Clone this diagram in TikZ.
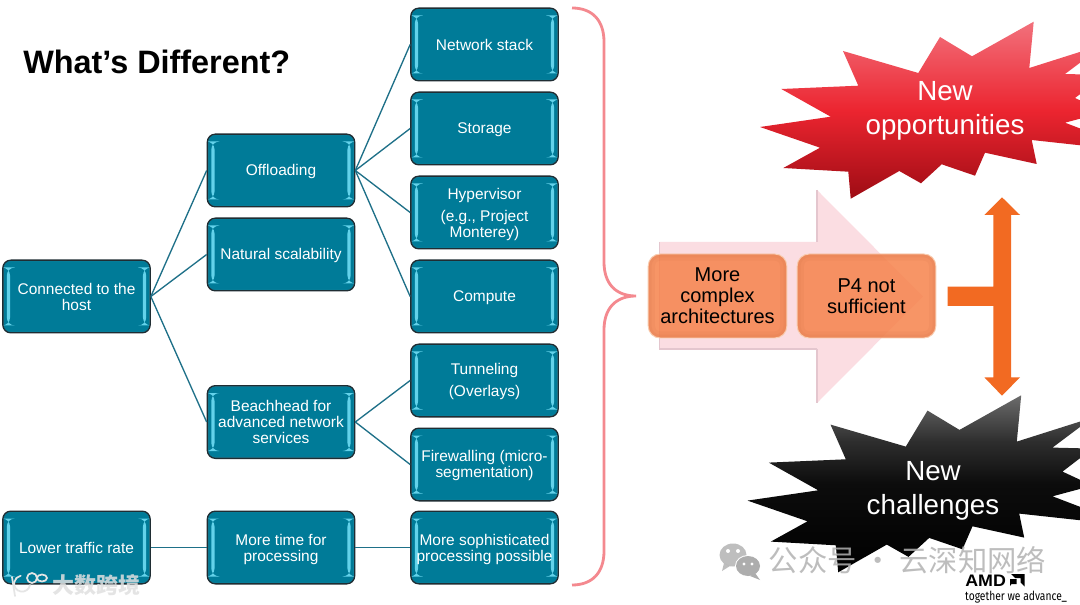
\documentclass[tikz,border=0pt]{standalone}
\usepackage{fontspec}
\setmainfont{Liberation Sans}
\newfontfamily\cjkf{Noto Sans CJK SC}
\newfontfamily\tagf{Fira Sans}
\definecolor{burstredA}{HTML}{F2717C}
\definecolor{burstredB}{HTML}{EC2530}
\definecolor{burstredC}{HTML}{9E0C14}
\definecolor{burstblkA}{HTML}{6C6C6C}
\definecolor{burstblkB}{HTML}{0C0C0C}
\definecolor{burstblkC}{HTML}{2E2E2E}
\pgfdeclareverticalshading{redburst}{100bp}{color(0bp)=(burstredC);color(25bp)=(burstredC);color(50bp)=(burstredB);color(75bp)=(burstredA);color(100bp)=(burstredA)}
\pgfdeclareverticalshading{blackburst}{100bp}{color(0bp)=(black);color(25bp)=(black);color(50bp)=(burstblkB);color(62bp)=(burstblkC);color(75bp)=(burstblkA);color(100bp)=(burstblkA)}
\definecolor{teal}{HTML}{007B98}
\definecolor{tealedge}{HTML}{1F2D33}
\definecolor{tealbar}{HTML}{63D2EA}
\definecolor{tealrim}{HTML}{2C8DA6}
\definecolor{linkc}{HTML}{1E7088}
\definecolor{bracec}{HTML}{F4898F}
\definecolor{pinkc}{HTML}{FBDDE2}
\definecolor{pinkline}{HTML}{E4C6CE}
\definecolor{orangebox}{HTML}{F6834C}
\definecolor{orangerim}{HTML}{F9CDB0}
\definecolor{orangein}{HTML}{C9683C}
\definecolor{tee}{HTML}{F26A22}
\colorlet{wmgrey}{black!30}
\newcommand\nudge[1]{\rule{0pt}{#1pt}}
\tikzset{
  x=0.75pt,y=-0.75pt,
  tbox/.style={rectangle,rounded corners=6pt,draw=tealedge,line width=1pt,fill=teal,
    text=white,align=center,inner sep=0pt,font=\fontsize{11.6}{12}\selectfont,
    minimum width=110.5pt,minimum height=54.5pt,
    path picture={
      \draw[tealrim,line width=1.6pt,rounded corners=5pt]
        (path picture bounding box.south west) rectangle (path picture bounding box.north east);
      \fill[tealbar] ([xshift=3pt,yshift=-5.5pt]path picture bounding box.north west)
        rectangle ([xshift=5.4pt,yshift=5.5pt]path picture bounding box.south west);
      \fill[tealbar] ([xshift=-5.4pt,yshift=-5.5pt]path picture bounding box.north east)
        rectangle ([xshift=-3pt,yshift=5.5pt]path picture bounding box.south east);
    }},
  link/.style={draw=linkc,line width=1pt},
  obox/.style={rectangle,rounded corners=9pt,draw=orangerim,line width=0.7pt,fill=orangebox,
    fill opacity=0.85,text opacity=1,text=black,align=center,inner sep=0pt,
    font=\fontsize{15}{15.6}\selectfont,minimum width=104pt,minimum height=63pt,
    path picture={
      \draw[orangein,draw opacity=.09,line width=10pt,rounded corners=9pt]
        (path picture bounding box.south west) rectangle (path picture bounding box.north east);
      \draw[orangein,draw opacity=.10,line width=5pt,rounded corners=9pt]
        (path picture bounding box.south west) rectangle (path picture bounding box.north east);
    }},
  burst/.style={text=white,align=center,inner sep=0pt,font=\fontsize{20.8}{25}\selectfont},
  wm/.style={text=wmgrey,inner sep=0pt,font=\cjkf\fontsize{22}{22}\selectfont,text opacity=.85},
}
\def\starpath{(760,127)--(830.7,116.7)--(781.3,89)--(858.3,85.7)--(843,51)--(918.3,73)--(940,37)--(972,56.3)--(1033.7,21.7)--(1029.3,68)--(1105,44)--(1065,74)--(1105,75)--(1075,98)--(1105,112)--(1065,122.7)--(1105,138)--(1105,148)--(1031.7,140)--(1036.7,164)--(985,152.7)--(975,175.7)--(941.7,164.3)--(921,183.3)--(899.3,171)--(850.7,198.7)--(848.3,171.7)--(783.3,168)--(820,147.7)--cycle}
\begin{document}
\begin{tikzpicture}
\useasboundingbox (0,0) rectangle (1080,605);
\fill[white] (0,0) rectangle (1080,605);

\node[anchor=base west,inner sep=0pt,font=\bfseries\fontsize{24.3}{26}\selectfont] (title) at (23,74) {What’s Different?};

% boxes
\node[tbox] (conn) at (76.5,296.5) {Connected to the\\host};
\node[tbox] (low) at (76.5,547.5) {Lower traffic rate};
\node[tbox] (off) at (281,170.5) {\nudge{9.9}Offloading};
\node[tbox] (nat) at (281,254.5) {\nudge{9.9}Natural scalability};
\node[tbox] (bea) at (281,422) {Beachhead for\\advanced network\\services};
\node[tbox] (tim) at (281,547.5) {\nudge{11.4}More time for\\processing};
\node[tbox] (net) at (484.5,44.5) {Network stack};
\node[tbox] (sto) at (484.5,128.5) {\nudge{9.9}Storage};
\node[tbox] (hyp) at (484.5,212.5) {\nudge{11.4}Hypervisor\\[4.5pt](e.g., Project\\Monterey)};
\node[tbox] (com) at (484.5,296.5) {\nudge{9.9}Compute};
\node[tbox] (tun) at (484.5,380.5) {\nudge{9.9}Tunneling\\[4.5pt](Overlays)};
\node[tbox] (fir) at (484.5,464.5) {\nudge{9.9}Firewalling (micro-\\segmentation)};
\node[tbox] (sop) at (484.5,547.5) {\nudge{11.4}More sophisticated\\processing possible};

% connectors
\draw[link] (conn.east) -- (off.west);
\draw[link] (conn.east) -- (nat.west);
\draw[link] (conn.east) -- (bea.west);
\draw[link] (off.east) -- (net.west);
\draw[link] (off.east) -- (sto.west);
\draw[link] (off.east) -- (hyp.west);
\draw[link] (off.east) -- (com.west);
\draw[link] (bea.east) -- (tun.west);
\draw[link] (bea.east) -- (fir.west);
\draw[link] (low.east) -- (tim.west);
\draw[link] (tim.east) -- (sop.west);

% brace
\draw[bracec,line width=2.1pt] (572,8) .. controls (592,8) and (604,20) .. (604,42)
  -- (604,262) .. controls (604,284) and (616,296) .. (636,296)
  .. controls (616,296) and (604,308) .. (604,330)
  -- (604,551) .. controls (604,573) and (592,585) .. (572,585);

% big translucent arrow
\fill[pinkc] (659.5,242) -- (817,242) -- (817,190) -- (923,296.5) -- (817,403) -- (817,349) -- (659.5,349) -- cycle;
\draw[pinkline,line width=0.9pt] (817,242) -- (817,190);
\draw[pinkline,line width=0.9pt] (817,349) -- (817,403);
\draw[pinkline,line width=0.9pt] (817,349) -- (659.5,349) -- (659.5,242);

\node[obox] (arch) at (717.5,296) {More\\complex\\architectures};
\node[obox] (p4) at (866.5,296) {P4 not\\sufficient};

% orange tee with double arrow
\fill[tee] (1002,197.3) -- (1020,215) -- (1011,215) -- (1011,377.3) -- (1020,377.3) -- (1002,395.7)
  -- (984.3,377.3) -- (993.3,377.3) -- (993.3,306) -- (947.7,306) -- (947.7,286.7) -- (993.3,286.7)
  -- (993.3,215) -- (984.3,215) -- cycle;

% bursts
\begin{scope}
\clip (0,0) rectangle (1080,605);
\path[shading=redburst] \starpath;
\begin{scope}[shift={(-12.5,373.6)}]
\path[shading=blackburst] \starpath;
\end{scope}
\end{scope}
\node[burst] (opp) at (945,111) {New\\opportunities};
\node[burst] (cha) at (933,491) {New\\challenges};

% watermark, lower left
\begin{scope}[draw=black!10,line width=1.3pt,line cap=round]
\draw (12,577) -- (15,596);
\draw (30,585) arc[start angle=10,end angle=260,x radius=8,y radius=8];
\draw (32,578) circle[radius=5];
\draw (42,578) ellipse[x radius=5,y radius=3.5];
\end{scope}
\node[wm,text=black!12,font=\cjkf\bfseries\fontsize{16.5}{18}\selectfont] (wm2) at (96,585.5) {大数跨境};

% watermark, wechat
\fill[black!28,opacity=.9] (733,555) ellipse[x radius=13.5,y radius=11.5];
\fill[black!28,opacity=.9] (724,563) -- (722,571) -- (730,566) -- cycle;
\fill[white] (748,566) ellipse[x radius=13,y radius=11];
\fill[black!32] (748,566) ellipse[x radius=12,y radius=10];
\fill[black!32] (755,573) -- (760,580) -- (750,576) -- cycle;
\fill[white] (728,551) circle[radius=2] (738,551) circle[radius=2] (744,564) circle[radius=1.6] (752,564) circle[radius=1.6];
\node[wm] (wm1) at (907.5,560) {公众号 · 云深知网络};

% AMD logo
\node[anchor=base west,inner sep=0pt,font=\bfseries\fontsize{12.5}{13}\selectfont,xscale=1.07] (amd) at (965,586) {AMD};
\fill[black] (1011,574) -- (1024.5,574) -- (1024.5,586.5) -- (1020.5,582.5) -- (1020.5,578) -- (1015,578) -- cycle;
\fill[black] (1010,579) -- (1016.5,579) -- (1016.5,584) -- (1011.5,584) -- (1010,586) -- cycle;
\node[anchor=base west,inner sep=0pt,font=\tagf\fontsize{9.4}{10}\selectfont,xscale=.82] (tag) at (965,600) {together we advance\_};
\end{tikzpicture}
\end{document}
